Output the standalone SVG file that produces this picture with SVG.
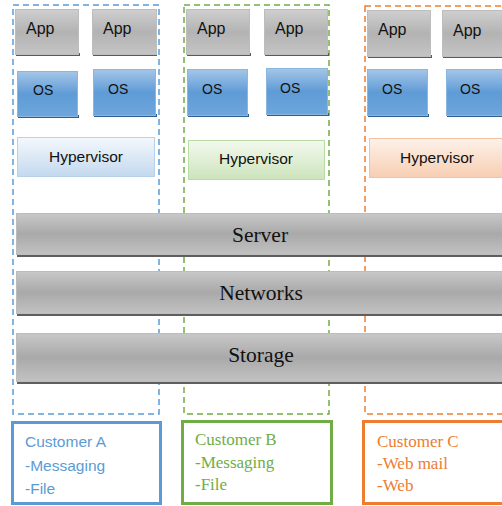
<svg xmlns="http://www.w3.org/2000/svg" width="502" height="506" viewBox="0 0 502 506">
<defs>
<linearGradient id="gApp" x1="0" y1="0" x2="0" y2="1">
<stop offset="0" stop-color="#cfcfcf"/><stop offset="0.5" stop-color="#b3b3b3"/><stop offset="1" stop-color="#c4c4c4"/>
</linearGradient>
<linearGradient id="gOS" x1="0" y1="0" x2="0" y2="1">
<stop offset="0" stop-color="#a4c6e8"/><stop offset="0.5" stop-color="#5f9bd6"/><stop offset="1" stop-color="#6ea6dc"/>
</linearGradient>
<linearGradient id="gHB" x1="0" y1="0" x2="0" y2="1">
<stop offset="0" stop-color="#f4f8fc"/><stop offset="1" stop-color="#c3d9ef"/>
</linearGradient>
<linearGradient id="gHG" x1="0" y1="0" x2="0" y2="1">
<stop offset="0" stop-color="#f3f9ee"/><stop offset="1" stop-color="#cce4bc"/>
</linearGradient>
<linearGradient id="gHO" x1="0" y1="0" x2="0" y2="1">
<stop offset="0" stop-color="#fdf2ea"/><stop offset="1" stop-color="#f7ceb2"/>
</linearGradient>
<linearGradient id="gBar" x1="0" y1="0" x2="0" y2="1">
<stop offset="0" stop-color="#c8c8c8"/><stop offset="0.5" stop-color="#a9a9a9"/><stop offset="1" stop-color="#c2c2c2"/>
</linearGradient>
</defs>
<style>
.dash{fill:none;stroke-width:1.5;stroke-dasharray:6 4}
.app{fill:url(#gApp);stroke:#bdbdbd;stroke-width:1}
.appsh{fill:#5a5a5a}
.os{fill:url(#gOS);stroke:#8ab6e0;stroke-width:1}
.ossh{fill:#2f5f8e}
.bar{fill:url(#gBar);stroke:#bcbcbc;stroke-width:1}
.barsh{fill:#5f5f5f}
.t{font-family:"Liberation Sans",Arial,sans-serif;fill:#111}
.ta{font-size:16px}
.to{font-size:14px}
.th{font-size:15.5px}
.tb{font-family:"Liberation Serif","Times New Roman",serif;font-size:21.5px;fill:#111}
.cust{fill:#fff;stroke-width:3}
.cs{font-family:"Liberation Sans",Arial,sans-serif;font-size:15.5px}
.cr{font-family:"Liberation Serif","Times New Roman",serif;font-size:17px}
</style>

<g id="tenantA">
<rect class="dash" x="13" y="5" width="146" height="409" stroke="#5b9bd5"/>
</g>
<g id="tenantB">
<rect class="dash" x="184" y="5" width="145" height="409" stroke="#70ad47"/>
</g>
<g id="tenantC">
<rect class="dash" x="365" y="6" width="150" height="408" stroke="#ed7d31"/>
</g>

<g id="appA1"><rect class="appsh" x="16" y="53" width="64" height="3"/><rect class="app" x="15.5" y="9.5" width="63" height="45"/><text class="t ta" x="26" y="34">App</text></g>
<g id="appA2"><rect class="appsh" x="93" y="53" width="64" height="3"/><rect class="app" x="92.5" y="9.5" width="64" height="45"/><text class="t ta" x="103" y="34">App</text></g>
<g id="appB1"><rect class="appsh" x="187" y="53" width="64" height="3"/><rect class="app" x="186.5" y="9.5" width="63" height="45"/><text class="t ta" x="197" y="34">App</text></g>
<g id="appB2"><rect class="appsh" x="265" y="53" width="64" height="3"/><rect class="app" x="264.5" y="9.5" width="63" height="45"/><text class="t ta" x="275" y="34">App</text></g>
<g id="appC1"><rect class="appsh" x="368" y="55" width="64" height="3"/><rect class="app" x="367.5" y="10.5" width="63" height="46"/><text class="t ta" x="378" y="35">App</text></g>
<g id="appC2"><rect class="appsh" x="443" y="55" width="64" height="3"/><rect class="app" x="442.5" y="10.5" width="64" height="46"/><text class="t ta" x="453" y="36">App</text></g>

<g id="osA1"><rect class="ossh" x="18" y="115" width="61" height="3"/><rect class="os" x="17.5" y="71.5" width="60" height="45"/><text class="t to" x="33" y="95">OS</text></g>
<g id="osA2"><rect class="ossh" x="94" y="114" width="63" height="3"/><rect class="os" x="93.5" y="69.5" width="62" height="46"/><text class="t to" x="108" y="94">OS</text></g>
<g id="osB1"><rect class="ossh" x="188" y="114" width="61" height="3"/><rect class="os" x="187.5" y="69.5" width="60" height="46"/><text class="t to" x="202" y="94">OS</text></g>
<g id="osB2"><rect class="ossh" x="267" y="113" width="62" height="3"/><rect class="os" x="266.5" y="68.5" width="61" height="46"/><text class="t to" x="280" y="93">OS</text></g>
<g id="osC1"><rect class="ossh" x="368" y="114" width="61" height="3"/><rect class="os" x="367.5" y="69.5" width="60" height="46"/><text class="t to" x="382" y="94">OS</text></g>
<g id="osC2"><rect class="ossh" x="447" y="114" width="61" height="3"/><rect class="os" x="446.5" y="69.5" width="60" height="46"/><text class="t to" x="460" y="94">OS</text></g>

<g id="hypA"><rect x="17.5" y="137.5" width="137" height="39" fill="url(#gHB)" stroke="#b7d1ea"/><text class="t th" x="86" y="162" text-anchor="middle">Hypervisor</text></g>
<g id="hypB"><rect x="188.5" y="140.5" width="136" height="39" fill="url(#gHG)" stroke="#b9dba4"/><text class="t th" x="256" y="164" text-anchor="middle">Hypervisor</text></g>
<g id="hypC"><rect x="369.5" y="138.5" width="140" height="39" fill="url(#gHO)" stroke="#f3c2a0"/><text class="t th" x="437" y="163" text-anchor="middle">Hypervisor</text></g>

<g id="server"><rect class="barsh" x="17" y="254" width="490" height="3"/><rect class="bar" x="16.5" y="213.5" width="490" height="41"/><text class="tb" x="260" y="242" text-anchor="middle">Server</text></g>
<g id="networks"><rect class="barsh" x="17" y="313" width="490" height="3"/><rect class="bar" x="16.5" y="271.5" width="490" height="42"/><text class="tb" x="261" y="300" text-anchor="middle">Networks</text></g>
<g id="storage"><rect class="barsh" x="17" y="381" width="490" height="3"/><rect class="bar" x="16.5" y="333.5" width="490" height="48"/><text class="tb" x="261" y="362" text-anchor="middle">Storage</text></g>

<g id="customerA"><rect class="cust" x="12.5" y="422.5" width="148" height="81" stroke="#5b9bd5"/>
<text class="cs" fill="#5b9bd5"><tspan x="25" y="447">Customer A</tspan><tspan x="25" y="471">-Messaging</tspan><tspan x="25" y="494">-File</tspan></text></g>
<g id="customerB"><rect class="cust" x="182.5" y="421.5" width="149" height="82" stroke="#70ad47"/>
<text class="cr" fill="#70ad47"><tspan x="195" y="445">Customer B</tspan><tspan x="195" y="468">-Messaging</tspan><tspan x="195" y="490">-File</tspan></text></g>
<g id="customerC"><rect class="cust" x="363.5" y="421.5" width="150" height="82" stroke="#ed7d31"/>
<text class="cr" fill="#ed7d31"><tspan x="377" y="447">Customer C</tspan><tspan x="377" y="469">-Web mail</tspan><tspan x="377" y="491">-Web</tspan></text></g>
</svg>
